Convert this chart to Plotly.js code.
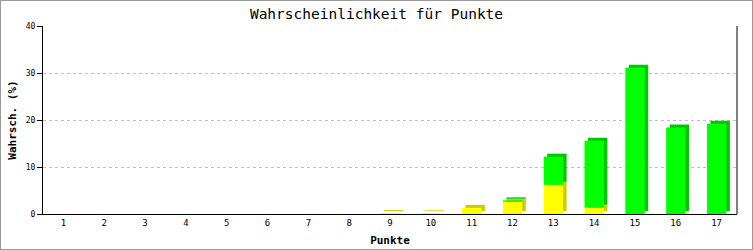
<!DOCTYPE html>
<html>
<head>
<meta charset="utf-8">
<script src="https://cdn.plot.ly/plotly-3.0.1.min.js"></script>
<style>
html,body{margin:0;padding:0;background:#fff;}
#wrap{position:relative;width:753px;height:250px;}
#chart{width:753px;height:250px;}
#frame{position:absolute;left:0;top:0;width:751px;height:248px;border:1px solid #999;pointer-events:none;}
</style>
</head>
<body>
<div id="wrap"><div id="chart"></div><div id="frame"></div></div>
<script>
// Data
const categories = [1,2,3,4,5,6,7,8,9,10,11,12,13,14,15,16,17];
const tickLabels = ["1","2","3","4","5","6","7","8","9","10","11","12","13","14","15","16","17"];
const yellowValues = [0,0,0,0,0,0,0,0,0.2,0.15,1.3,2.6,6.2,1.35,0,0,0];
const greenValues  = [0,0,0,0,0,0,0,0,0,0,0,0.3,6.0,14.25,31.1,18.4,19.2];

const titleText = "Wahrscheinlichkeit für Punkte";
const xTitle = "Punkte";
const yTitle = "Wahrsch. (%)";

// 3D depth effect (style)
const depthY = 0.64;   // in y units (~3px)
const barW = 0.475;
const frontOff = -0.235;
const sideOff = frontOff + 0.086;

const mono = "DejaVu Sans Mono";

const shadowYellowBase = yellowValues.map(() => depthY);
const shadowGreenBase = yellowValues.map(v => v + depthY);

const traces = [
  {type:'bar', x:categories, y:yellowValues, base:shadowYellowBase, width:barW, offset:sideOff,
   marker:{color:'#cccc00', line:{width:0}}, hoverinfo:'skip', showlegend:false},
  {type:'bar', x:categories, y:greenValues, base:shadowGreenBase, width:barW, offset:sideOff,
   marker:{color:'#00c800', line:{width:0}}, hoverinfo:'skip', showlegend:false},
  {type:'bar', x:categories, y:yellowValues, base:yellowValues.map(()=>0), width:barW, offset:frontOff,
   marker:{color:'#ffff00', line:{width:0}}, hoverinfo:'skip', showlegend:false},
  {type:'bar', x:categories, y:greenValues, base:yellowValues, width:barW, offset:frontOff,
   marker:{color:'#00ff00', line:{width:0}}, hoverinfo:'skip', showlegend:false}
];

const layout = {
  width:753, height:250,
  margin:{l:43, r:16, t:26, b:36, pad:0},
  paper_bgcolor:'#ffffff', plot_bgcolor:'#ffffff',
  barmode:'overlay',
  showlegend:false,
  font:{family:mono, size:9, color:'#000'},
  title:{text:titleText, x:0.5, xanchor:'center', y:1-14/250, yanchor:'middle', yref:'container',
         font:{family:mono, size:14.5, color:'#000'}},
  xaxis:{
    range:[0.5,17.5], tickmode:'array', tickvals:categories, ticktext:tickLabels,
    showgrid:false, zeroline:false, showline:true, linecolor:'#000', linewidth:1,
    ticks:'', tickfont:{family:mono, size:9, color:'#000'},
    title:{text:xTitle, font:{family:mono, size:11, color:'#000', weight:'bold'}, standoff:9},
    fixedrange:true
  },
  yaxis:{
    range:[0,40], tickmode:'array', tickvals:[0,10,20,30,40], ticktext:["0","10","20","30","40"],
    showgrid:true, gridcolor:'#c0c0c0', griddash:'dot', gridwidth:1,
    zeroline:false, showline:true, linecolor:'#000', linewidth:1,
    ticks:'outside', ticklen:5, tickcolor:'#000', tickwidth:1,
    tickfont:{family:mono, size:8, color:'#000'},
    title:{text:yTitle, font:{family:mono, size:11, color:'#000', weight:'bold'}, standoff:6},
    fixedrange:true
  },
  shapes:[
    {type:'line', xref:'paper', yref:'paper', x0:1, x1:1, y0:0, y1:1, line:{color:'#000', width:1}}
  ]
};

Plotly.newPlot('chart', traces, layout, {displayModeBar:false, staticPlot:true});
</script>
</body>
</html>
